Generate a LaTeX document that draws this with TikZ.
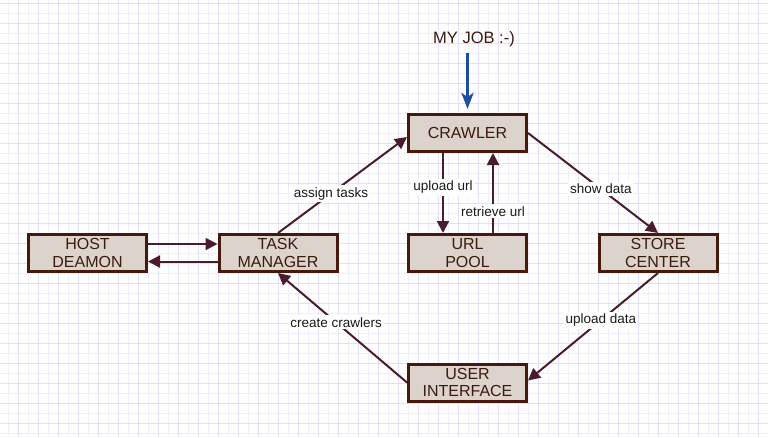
\documentclass[tikz,border=0pt]{standalone}
\usepackage{fontspec}
\setmainfont{Liberation Sans}
\usepackage{tikz}
\usetikzlibrary{arrows.meta,calc}
\definecolor{boxfill}{HTML}{DCD3CC}
\definecolor{boxline}{HTML}{45190B}
\definecolor{boxtext}{HTML}{3B1A0F}
\definecolor{flow}{HTML}{4A1B2B}
\definecolor{jobblue}{HTML}{1E4F9C}
\definecolor{gridmajor}{HTML}{E4DFF8}
\definecolor{gridminor}{HTML}{F0EEFB}

\begin{document}
\begin{tikzpicture}[x=1pt,y=-1pt,
  unit/.style={draw=boxline,line width=3pt,fill=boxfill,text=boxtext,minimum width=118pt,minimum height=37pt,inner sep=0pt,align=center,font=\fontsize{16}{17.5}\selectfont},
  flowline/.style={draw=flow,line width=2pt,-{Triangle[length=12pt,width=12pt]}},
  lbl/.style={fill=white,inner sep=2pt,text=black!90,font=\fontsize{13.5}{15}\selectfont},
  jobarrow/.style={draw=jobblue,line width=3.5pt,-{Stealth[length=16pt,width=12pt,inset=4pt]}}]
\fill[white] (0,0) rectangle (768,437);
\useasboundingbox (0,0) rectangle (768,437);
% grid paper
\foreach \x in {8,28,...,768} \draw[gridminor,line width=1pt] (\x,0) -- (\x,437);
\foreach \y in {13,33,...,437} \draw[gridminor,line width=1pt] (0,\y) -- (768,\y);
\foreach \x in {18,38,...,768} \draw[gridmajor,line width=1pt] (\x,0) -- (\x,437);
\foreach \y in {3,23,...,437} \draw[gridmajor,line width=1pt] (0,\y) -- (768,\y);

\node[unit] (crawler) at (467.5,133) {CRAWLER};
\node[unit] (host) at (87.5,253) {HOST\\DEAMON};
\node[unit] (task) at (278,253) {TASK\\MANAGER};
\node[unit] (pool) at (467.5,253) {URL\\POOL};
\node[unit] (store) at (658,253) {STORE\\CENTER};
\node[unit] (user) at (467.5,382.5) {USER\\INTERFACE};
\node[anchor=base,text=boxtext,font=\fontsize{16.5}{18}\selectfont] (job) at (474,43) {MY JOB :-)};

\draw[jobarrow] ($(job.base -| crawler.north)+(0,10)$) -- ([yshift=4pt]crawler.north);
\draw[flowline] ([yshift=9pt]host.east) -- ([yshift=9pt]task.west);
\draw[flowline] ([yshift=-8.5pt]task.west) -- ([yshift=-8.5pt]host.east);
\draw[flowline] (task.north) -- node[lbl,pos=0.41] {assign tasks} ([yshift=-4pt]crawler.west);
\draw[flowline] ([xshift=-24.5pt]crawler.south) -- node[lbl,pos=0.43] {upload url} ([xshift=-24.5pt]pool.north);
\draw[flowline] ([xshift=25.5pt]pool.north) -- node[lbl,pos=0.27] {retrieve url} ([xshift=25.5pt]crawler.south);
\draw[flowline] (crawler.east) -- node[lbl,pos=0.56] {show data} (store.north);
\draw[flowline] (store.south) -- node[lbl,pos=0.44] {upload data} ([yshift=2pt]user.east);
\draw[flowline] (user.west) -- node[lbl,pos=0.55] {create crawlers} (task.south);
\end{tikzpicture}
\end{document}
